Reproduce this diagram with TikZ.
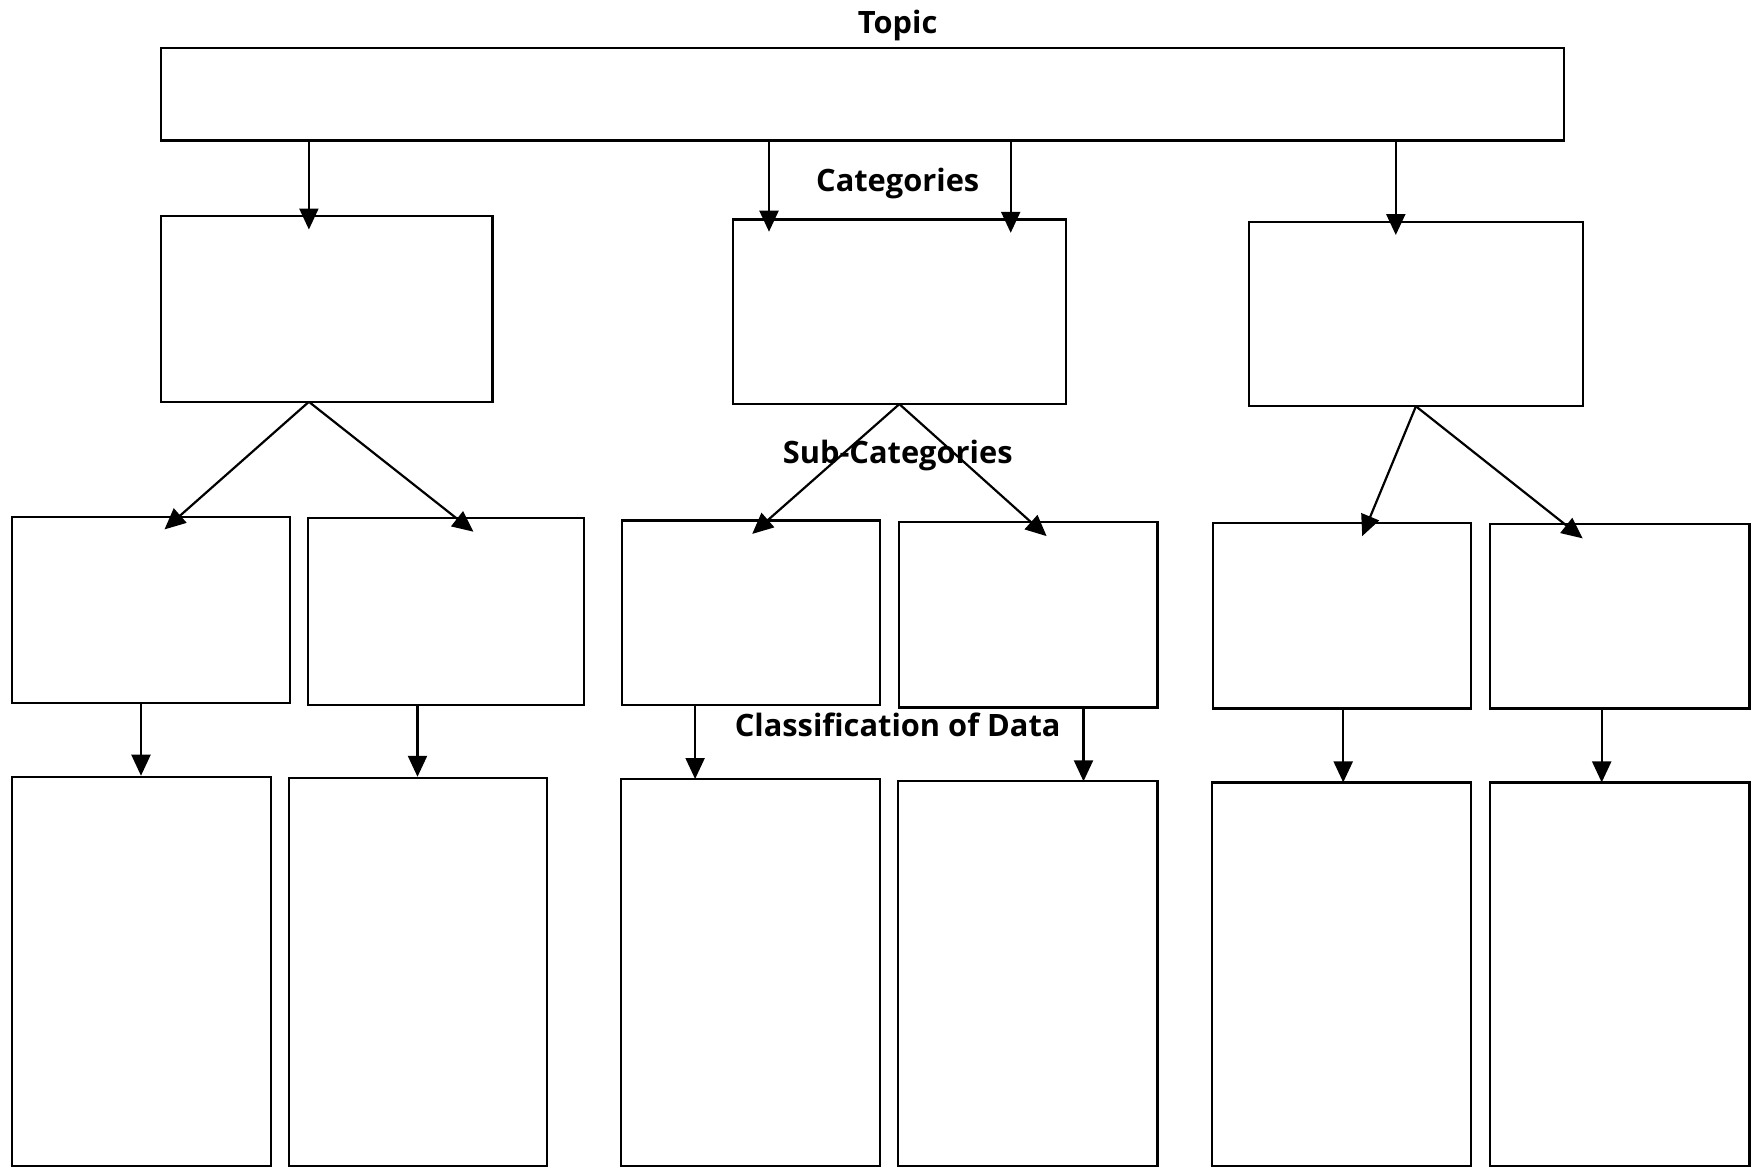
\documentclass[tikz,border=0pt]{standalone}
\usepackage{fontspec}
\newfontfamily\lblfont{Open Sans}
\usetikzlibrary{arrows.meta,calc}
\tikzset{
  box/.style={draw, line width=1.1pt, inner sep=0pt, outer sep=0pt},
  arr/.style={line width=1.1pt, -{Triangle[length=10.5pt,width=9.5pt]}},
  lbl/.style={font=\lblfont\bfseries\fontsize{15.4}{17}\selectfont, anchor=base, inner sep=0pt}
}
\newcommand\pbox[5]{\node[box,anchor=north west,minimum width={(#4-#2)*0.5pt},minimum height={(#5-#3)*0.5pt}] (#1) at (#2,#3) {};}
\begin{document}
\begin{tikzpicture}[x=0.5pt,y=-0.5pt]
\useasboundingbox (0,0) rectangle (1755,1168);
% top
\pbox{topic}{161.2}{48}{1563.7}{140.5}
% categories
\pbox{A}{161.2}{216}{492.5}{401.8}
\pbox{B}{733.1}{219.4}{1065.6}{404.1}
\pbox{C}{1249.1}{221.6}{1582.7}{406.3}
% sub-categories
\pbox{S1}{12.3}{517.1}{289.9}{702.9}
\pbox{S2}{307.8}{518.2}{584.3}{705.2}
\pbox{S3}{622.3}{520.5}{879.8}{705.2}
\pbox{S4}{898.8}{521.6}{1157.4}{707.4}
\pbox{S5}{1213.3}{522.7}{1470.8}{708.5}
\pbox{S6}{1489.8}{523.8}{1749.5}{708.5}
% data
\pbox{D1}{12.3}{776.8}{270.9}{1166}
\pbox{D2}{288.8}{777.9}{547.3}{1166}
\pbox{D3}{621.2}{779}{879.8}{1166}
\pbox{D4}{897.7}{781.3}{1157.4}{1166}
\pbox{D5}{1212.2}{782.4}{1470.8}{1166}
\pbox{D6}{1489.8}{782.4}{1749.5}{1166}
% labels
\node[lbl] (ltopic) at (897.7,33.4) {Topic};
\node[lbl] (lcat) at (897.7,191.7) {Categories};
\node[lbl] (lsub) at (897.7,463.5) {Sub-Categories};
\node[lbl] (lcls) at (897.7,736) {Classification of Data};
% arrow tips
\coordinate (tA) at (308.9,229.5);
\coordinate (tB1) at (769,231.7);
\coordinate (tB2) at (1010.7,232.8);
\coordinate (tC) at (1395.8,235);
\coordinate (t1) at (164.5,529.4);
\coordinate (t2) at (473.5,531.7);
\coordinate (t3) at (752.2,533.9);
\coordinate (t4) at (1046.6,536.1);
\coordinate (t5) at (1362.2,536.1);
\coordinate (t6) at (1582.7,538.4);
\coordinate (d1) at (141,775.7);
\coordinate (d2) at (417.5,776.8);
\coordinate (d3) at (695.1,779);
\coordinate (d4) at (1083.5,781.3);
\coordinate (d5) at (1343.2,782.4);
\coordinate (d6) at (1601.7,782.4);
% connectors
\draw[arr] (topic.south -| tA) -- (tA);
\draw[arr] (topic.south -| tB1) -- (tB1);
\draw[arr] (topic.south -| tB2) -- (tB2);
\draw[arr] (topic.south -| tC) -- (tC);
\draw[arr] (A.south -| tA) -- (t1);
\draw[arr] (A.south -| tA) -- (t2);
\draw[arr] (B.south) -- (t3);
\draw[arr] (B.south) -- (t4);
\draw[arr] (C.south) -- (t5);
\draw[arr] (C.south) -- (t6);
\draw[arr] (S1.south -| d1) -- (d1);
\draw[arr] (S2.south -| d2) -- (d2);
\draw[arr] (S3.south -| d3) -- (d3);
\draw[arr] (S4.south -| d4) -- (d4);
\draw[arr] (S5.south -| d5) -- (d5);
\draw[arr] (S6.south -| d6) -- (d6);
\end{tikzpicture}
\end{document}
